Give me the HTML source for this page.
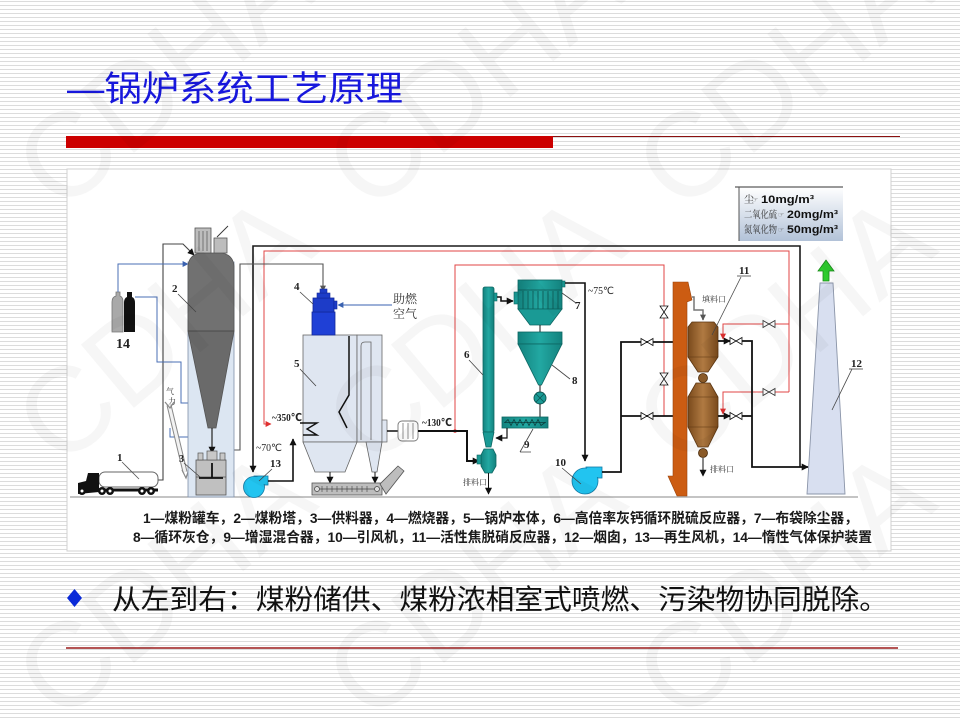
<!DOCTYPE html>
<html><head><meta charset="utf-8">
<style>
html,body{margin:0;padding:0;}
body{width:960px;height:720px;overflow:hidden;position:relative;background:#fff repeating-linear-gradient(to bottom,#fff 0px,#fff 1px,#dcdcdc 1px,#dcdcdc 2px,#fff 2px,#fff 4px);}
svg{position:absolute;left:0;top:0;}
</style></head><body>
<svg width="960" height="720" viewBox="0 0 960 720" xmlns="http://www.w3.org/2000/svg">
<defs>
<marker id="ab" viewBox="0 0 10 10" refX="9" refY="5" markerUnits="userSpaceOnUse" markerWidth="7" markerHeight="7" orient="auto"><path d="M0,0 L10,5 L0,10 z" fill="#111"/></marker>
<marker id="ar" viewBox="0 0 10 10" refX="9" refY="5" markerUnits="userSpaceOnUse" markerWidth="6" markerHeight="6" orient="auto"><path d="M0,0 L10,5 L0,10 z" fill="#e03030"/></marker>
<marker id="abl" viewBox="0 0 10 10" refX="9" refY="5" markerUnits="userSpaceOnUse" markerWidth="6" markerHeight="6" orient="auto"><path d="M0,0 L10,5 L0,10 z" fill="#3a62b0"/></marker>
<marker id="ag" viewBox="0 0 10 10" refX="9" refY="5" markerUnits="userSpaceOnUse" markerWidth="6" markerHeight="6" orient="auto"><path d="M0,0 L10,5 L0,10 z" fill="#555"/></marker>
<linearGradient id="gbox" x1="0" y1="0" x2="0" y2="1"><stop offset="0" stop-color="#ffffff"/><stop offset="1" stop-color="#b2c2d8"/></linearGradient>
<linearGradient id="gbr" x1="0" y1="0" x2="1" y2="0"><stop offset="0" stop-color="#7a4a1c"/><stop offset="0.5" stop-color="#b07a42"/><stop offset="1" stop-color="#7a4a1c"/></linearGradient>
<linearGradient id="gteal" x1="0" y1="0" x2="1" y2="0"><stop offset="0" stop-color="#13827e"/><stop offset="0.5" stop-color="#22a8a2"/><stop offset="1" stop-color="#13827e"/></linearGradient>
</defs>

<!-- Title -->
<text x="67" y="101" font-family="'Liberation Sans','Noto Sans CJK SC',sans-serif" font-size="35" fill="#1717dc" textLength="336" lengthAdjust="spacingAndGlyphs">—锅炉系统工艺原理</text>
<rect x="66" y="136" width="487" height="12" fill="#cc0000"/>
<line x1="553" y1="136.5" x2="900" y2="136.5" stroke="#8b1010" stroke-width="1"/>

<!-- Diagram area -->
<rect x="67" y="169" width="824" height="382" fill="#fff" stroke="#d0d0d0" stroke-width="1"/>

<!-- ground -->
<line x1="70" y1="497" x2="858" y2="497" stroke="#8a8a8a" stroke-width="1"/>

<!-- outer black loop -->
<path d="M800,467 L800,246 L253,246 L253,472" fill="none" stroke="#1a1a1a" stroke-width="1.6" marker-end="url(#ab)"/>
<!-- red loop 1 -->
<path d="M789,392 L789,251 L264,251 L264,424 L271,424" fill="none" stroke="#e04545" stroke-width="1" marker-end="url(#ar)"/>
<path d="M789,324 L723,324 L723,339" fill="none" stroke="#e04545" stroke-width="1" marker-end="url(#ar)"/>
<path d="M789,392 L723,392 L723,414" fill="none" stroke="#e04545" stroke-width="1" marker-end="url(#ar)"/>
<!-- red loop 2 -->
<path d="M455,431 L455,265 L664,265 L664,416" fill="none" stroke="#e04545" stroke-width="1"/>
<circle cx="455" cy="431" r="1.8" fill="#e03030"/>

<!-- gray coal line -->
<path d="M222,455 L222,450 L240,450 L240,264 L323,264 L323,291" fill="none" stroke="#555" stroke-width="1.1" marker-end="url(#ag)"/>

<!-- truck 1 -->
<path d="M157,480 L163,480 L163,244 L183,244 L194,255" fill="none" stroke="#444" stroke-width="1.1" marker-end="url(#ab)"/>
<rect x="99" y="472" width="59" height="15" rx="6" fill="#fff" stroke="#666" stroke-width="1"/>
<line x1="96" y1="490" x2="158" y2="490" stroke="#111" stroke-width="3"/>
<path d="M78,494 L78,483 L86,481 L88,473 L99,473 L99,492 Z" fill="#111"/>
<circle cx="82" cy="491" r="4" fill="#111"/><circle cx="82" cy="491" r="1.5" fill="#fff"/>
<circle cx="102" cy="491" r="4" fill="#111"/><circle cx="102" cy="491" r="1.5" fill="#fff"/>
<circle cx="110" cy="491" r="4" fill="#111"/><circle cx="110" cy="491" r="1.5" fill="#fff"/>
<circle cx="142" cy="491" r="4" fill="#111"/><circle cx="142" cy="491" r="1.5" fill="#fff"/>
<circle cx="151" cy="491" r="4" fill="#111"/><circle cx="151" cy="491" r="1.5" fill="#fff"/>
<text x="117" y="461" font-family="'Liberation Serif',serif" font-weight="bold" font-size="11" fill="#222">1</text>
<line x1="122" y1="462" x2="139" y2="479" stroke="#555" stroke-width="0.8"/>

<!-- cylinders 14 -->
<path d="M112,332 L112,302 Q112,297 116,296 L116,292 L120,292 L120,296 Q123,297 123,302 L123,332 Z" fill="#a9a9a9" stroke="#777" stroke-width="0.8"/>
<path d="M124,332 L124,303 Q124,298 127,297 L127,292 L132,292 L132,297 Q135,298 135,303 L135,332 Z" fill="#111"/>
<text x="116" y="348" font-family="'Liberation Serif',serif" font-weight="bold" font-size="14" fill="#222">14</text>
<!-- blue lines -->
<path d="M118,292 L118,264 L188,264" fill="none" stroke="#4a6fb5" stroke-width="1" marker-end="url(#abl)"/>
<path d="M135,297 L157,297 L157,362 L181,362 L181,403 L197,403" fill="none" stroke="#4a6fb5" stroke-width="1" marker-end="url(#abl)"/>
<path d="M170,428 L170,437 L202,437 L202,452" fill="none" stroke="#4a6fb5" stroke-width="1" marker-end="url(#abl)"/>

<!-- pneumatic pipe -->
<line x1="169" y1="405" x2="185" y2="472" stroke="#888" stroke-width="5"/>
<line x1="169" y1="405" x2="185" y2="472" stroke="#f2f2f2" stroke-width="3"/>
<path d="M165,402 L170,408 L174,402" fill="none" stroke="#888" stroke-width="1.2"/>
<path d="M182,470 L186,478 L189,469" fill="none" stroke="#888" stroke-width="1.2"/>
<text x="166" y="394" font-family="'Liberation Serif','Noto Serif CJK SC',serif" font-size="8" fill="#333">气</text>
<text x="168" y="404" font-family="'Liberation Serif','Noto Serif CJK SC',serif" font-size="8" fill="#333">力</text>

<!-- tower 2 -->
<rect x="188" y="262" width="46" height="235" fill="#dce6f2" stroke="#7f8fa8" stroke-width="0.8"/>
<path d="M188,331 L188,266 Q189,255 200,253 L222,253 Q233,255 234,266 L234,331 Z" fill="#717171" stroke="#555" stroke-width="0.8"/>
<path d="M188,331 L234,331 L216,428 L208,428 Z" fill="#6a6a6a" stroke="#555" stroke-width="0.8"/>
<line x1="188" y1="331" x2="234" y2="331" stroke="#4a4a4a" stroke-width="1"/>
<rect x="195" y="228" width="16" height="25" fill="#bdbdbd" stroke="#555" stroke-width="0.8"/>
<line x1="199" y1="231" x2="199" y2="251" stroke="#555" stroke-width="0.7"/>
<line x1="203" y1="231" x2="203" y2="251" stroke="#555" stroke-width="0.7"/>
<line x1="207" y1="231" x2="207" y2="251" stroke="#555" stroke-width="0.7"/>
<rect x="214" y="238" width="13" height="15" fill="#bdbdbd" stroke="#555" stroke-width="0.8"/>
<line x1="217" y1="237" x2="228" y2="226" stroke="#333" stroke-width="0.9"/>
<line x1="212" y1="428" x2="212" y2="453" stroke="#222" stroke-width="1.2" marker-end="url(#ab)"/>
<text x="172" y="292" font-family="'Liberation Serif',serif" font-weight="bold" font-size="11" fill="#222">2</text>
<line x1="178" y1="294" x2="196" y2="312" stroke="#444" stroke-width="0.8"/>

<!-- feeder 3 -->
<rect x="196" y="460" width="30" height="35" fill="#c0c0c0" stroke="#555" stroke-width="0.8"/>
<line x1="196" y1="477" x2="226" y2="477" stroke="#555" stroke-width="0.7"/>
<rect x="198" y="453" width="5" height="7" fill="#c8c8c8" stroke="#555" stroke-width="0.7"/>
<rect x="207" y="451" width="10" height="9" fill="#c8c8c8" stroke="#555" stroke-width="0.7"/>
<rect x="220" y="453" width="5" height="7" fill="#c8c8c8" stroke="#555" stroke-width="0.7"/>
<line x1="212" y1="463" x2="212" y2="478" stroke="#111" stroke-width="1.8"/>
<line x1="199" y1="478" x2="223" y2="478" stroke="#111" stroke-width="1.8"/>
<text x="179" y="462" font-family="'Liberation Serif',serif" font-weight="bold" font-size="10" fill="#222">3</text>
<line x1="184" y1="463" x2="200" y2="477" stroke="#444" stroke-width="0.8"/>

<!-- fan 13 -->
<rect x="254" y="476" width="14" height="9" fill="#22c4f0" stroke="#137aa5" stroke-width="0.8"/>
<circle cx="254" cy="487" r="10.5" fill="#22c4f0" stroke="#137aa5" stroke-width="0.8"/>
<rect x="255" y="477" width="12" height="7" fill="#22c4f0"/>
<path d="M268,481 L293,481 L293,439" fill="none" stroke="#111" stroke-width="1.6" marker-end="url(#ab)"/>
<text x="270" y="467" font-family="'Liberation Serif',serif" font-weight="bold" font-size="11" fill="#222">13</text>
<line x1="272" y1="469" x2="259" y2="481" stroke="#444" stroke-width="0.8"/>
<text x="256" y="451" font-family="'Liberation Serif','DejaVu Sans',serif" font-size="10" fill="#222" textLength="26" lengthAdjust="spacingAndGlyphs">~70℃</text>
<text x="272" y="421" font-family="'Liberation Serif','DejaVu Sans',serif" font-weight="bold" font-size="11" fill="#222" textLength="30" lengthAdjust="spacingAndGlyphs">~350℃</text>

<!-- boiler 5 -->
<rect x="303" y="335" width="54" height="107" fill="#dfe6f1" stroke="#666" stroke-width="0.8"/>
<rect x="357" y="335" width="25" height="107" fill="#dfe6f1" stroke="#666" stroke-width="0.8"/>
<path d="M361,440 L361,346 Q361,342 365,342 L371,342 L371,440" fill="none" stroke="#666" stroke-width="0.8"/>
<path d="M303,442 L357,442 L345,472 L315,472 Z" fill="#dfe6f1" stroke="#666" stroke-width="0.8"/>
<path d="M366,442 L382,442 L377,472 L372,472 Z" fill="#dfe6f1" stroke="#666" stroke-width="0.8"/>
<path d="M349,336 L349,395 L339,412 L347,428" fill="none" stroke="#111" stroke-width="1.5"/>
<path d="M300,423 L317,423 L307,429 L317,435 L303,435" fill="none" stroke="#111" stroke-width="1.4"/>
<rect x="382" y="420" width="5" height="22" fill="#dfe6f1" stroke="#666" stroke-width="0.7"/>
<line x1="330" y1="472" x2="330" y2="483" stroke="#111" stroke-width="1" marker-end="url(#ab)"/>
<line x1="375" y1="472" x2="375" y2="483" stroke="#111" stroke-width="1" marker-end="url(#ab)"/>
<rect x="312" y="483" width="70" height="12" fill="#bdbdbd" stroke="#555" stroke-width="0.8"/>
<line x1="317" y1="489" x2="377" y2="489" stroke="#444" stroke-width="0.8"/>
<path d="M322,486 v6 M327,486 v6 M332,486 v6 M337,486 v6 M342,486 v6 M347,486 v6 M352,486 v6 M357,486 v6 M362,486 v6 M367,486 v6" stroke="#444" stroke-width="0.6"/>
<circle cx="317" cy="489" r="2.5" fill="#ddd" stroke="#444" stroke-width="0.7"/>
<circle cx="377" cy="489" r="2.5" fill="#ddd" stroke="#444" stroke-width="0.7"/>
<path d="M380,484 L398,466 L404,471 L386,494 Z" fill="#bdbdbd" stroke="#555" stroke-width="0.8"/>
<text x="294" y="367" font-family="'Liberation Serif',serif" font-weight="bold" font-size="11" fill="#222">5</text>
<line x1="300" y1="369" x2="316" y2="386" stroke="#444" stroke-width="0.8"/>

<!-- burner 4 -->
<rect x="312" y="312" width="23" height="23" fill="#1f40d6" stroke="#13299a" stroke-width="0.8"/>
<rect x="313" y="298" width="21" height="14" fill="#1d3cc8" stroke="#13299a" stroke-width="0.8"/>
<rect x="334" y="301" width="3" height="8" fill="#1d3cc8" stroke="#13299a" stroke-width="0.6"/>
<rect x="317" y="293" width="13" height="5" fill="#1d3cc8" stroke="#13299a" stroke-width="0.6"/>
<rect x="320" y="289" width="7" height="4" fill="#1d3cc8" stroke="#13299a" stroke-width="0.6"/>
<text x="294" y="290" font-family="'Liberation Serif',serif" font-weight="bold" font-size="11" fill="#222">4</text>
<line x1="300" y1="292" x2="313" y2="304" stroke="#444" stroke-width="0.8"/>
<line x1="392" y1="305" x2="338" y2="305" stroke="#3a62b0" stroke-width="1" marker-end="url(#abl)"/>
<text x="393" y="303" font-family="'Liberation Serif','Noto Serif CJK SC',serif" font-size="12" fill="#333">助燃</text>
<text x="393" y="318" font-family="'Liberation Serif','Noto Serif CJK SC',serif" font-size="12" fill="#333">空气</text>

<!-- flue / heater -->
<line x1="387" y1="431" x2="398" y2="431" stroke="#111" stroke-width="1.5"/>
<rect x="398" y="421" width="20" height="20" rx="4" fill="#fff" stroke="#777" stroke-width="0.9"/>
<path d="M403,423 v16 M408,423 v16 M413,423 v16" stroke="#777" stroke-width="0.8"/>
<path d="M418,431 L467,431 L467,461 L479,461" fill="none" stroke="#111" stroke-width="2" marker-end="url(#ab)"/>
<text x="422" y="426" font-family="'Liberation Serif','DejaVu Sans',serif" font-weight="bold" font-size="11" fill="#222" textLength="30" lengthAdjust="spacingAndGlyphs">~130℃</text>

<!-- reactor 6 -->
<rect x="483" y="287" width="11" height="145" rx="2" fill="url(#gteal)" stroke="#0d6662" stroke-width="0.8"/>
<path d="M483,432 L494,432 L491,447 L486,447 Z" fill="#1a9a95" stroke="#0d6662" stroke-width="0.8"/>
<path d="M484,449 L493,449 L496,455 L496,466 L492,473 L485,473 L481,466 L481,455 Z" fill="url(#gteal)" stroke="#0d6662" stroke-width="0.8"/>
<rect x="477" y="455" width="4" height="9" fill="#1a9a95" stroke="#0d6662" stroke-width="0.6"/>
<line x1="488.5" y1="473" x2="488.5" y2="494" stroke="#111" stroke-width="1" marker-end="url(#ab)"/>
<text x="463" y="485" font-family="'Liberation Serif','Noto Serif CJK SC',serif" font-size="8" fill="#333">排料口</text>
<text x="464" y="358" font-family="'Liberation Serif',serif" font-weight="bold" font-size="11" fill="#222">6</text>
<line x1="469" y1="360" x2="483" y2="375" stroke="#444" stroke-width="0.8"/>
<rect x="494" y="293" width="3" height="8" fill="#1a9a95" stroke="#0d6662" stroke-width="0.6"/>
<path d="M497,297 L501,297 L501,301 L513,301" fill="none" stroke="#111" stroke-width="1.6" marker-end="url(#ab)"/>

<!-- baghouse 7 -->
<rect x="518" y="280" width="44" height="29" fill="url(#gteal)" stroke="#0d6662" stroke-width="0.8"/>
<line x1="518" y1="290" x2="562" y2="290" stroke="#0d5552" stroke-width="0.8"/>
<path d="M523,291 v18 M528,291 v18 M533,291 v18 M538,291 v18 M543,291 v18 M548,291 v18 M553,291 v18 M558,291 v18" stroke="#0d5552" stroke-width="0.8"/>
<rect x="514" y="292" width="4" height="12" fill="#1a9a95" stroke="#0d6662" stroke-width="0.6"/>
<rect x="562" y="281" width="3" height="6" fill="#1a9a95" stroke="#0d6662" stroke-width="0.6"/>
<path d="M518,309 L562,309 L550,325 L530,325 Z" fill="#1a9a95" stroke="#0d6662" stroke-width="0.8"/>
<line x1="540" y1="325" x2="540" y2="332" stroke="#111" stroke-width="1"/>
<!-- hopper 8 -->
<rect x="518" y="332" width="44" height="12" fill="url(#gteal)" stroke="#0d6662" stroke-width="0.8"/>
<path d="M518,344 L562,344 L541.5,385 L538.5,385 Z" fill="url(#gteal)" stroke="#0d6662" stroke-width="0.8"/>
<line x1="540" y1="385" x2="540" y2="392" stroke="#111" stroke-width="1"/>
<circle cx="540" cy="398" r="6" fill="#1a9a95" stroke="#0d5552" stroke-width="0.9"/>
<path d="M536,394 L544,402 M544,394 L536,402" stroke="#0d5552" stroke-width="0.8"/>
<line x1="540" y1="404" x2="540" y2="417" stroke="#111" stroke-width="1"/>
<text x="575" y="309" font-family="'Liberation Serif',serif" font-weight="bold" font-size="11" fill="#222">7</text>
<line x1="576" y1="303" x2="562" y2="293" stroke="#444" stroke-width="0.8"/>
<text x="572" y="384" font-family="'Liberation Serif',serif" font-weight="bold" font-size="11" fill="#222">8</text>
<line x1="570" y1="379" x2="552" y2="365" stroke="#444" stroke-width="0.8"/>
<!-- mixer 9 -->
<rect x="502" y="417" width="46" height="11" fill="url(#gteal)" stroke="#0d6662" stroke-width="0.8"/>
<path d="M505,422.5 L508,419.5 L511,425.5 L514,419.5 L517,425.5 L520,419.5 L523,425.5 L526,419.5 L529,425.5 L532,419.5 L535,425.5 L538,419.5 L541,425.5 L545,422.5" fill="none" stroke="#0b3d3b" stroke-width="0.8"/>
<line x1="504" y1="422.5" x2="546" y2="422.5" stroke="#0b3d3b" stroke-width="0.8"/>
<path d="M507,428 L507,438 L496,438" fill="none" stroke="#111" stroke-width="1.2" marker-end="url(#ab)"/>
<text x="524" y="448" font-family="'Liberation Serif',serif" font-weight="bold" font-size="11" fill="#222">9</text>
<path d="M520,452 L531,452 M520,452 L533,429" fill="none" stroke="#444" stroke-width="0.8"/>

<!-- line to fan 10 -->
<path d="M565,283 L585,283 L585,461" fill="none" stroke="#111" stroke-width="1.6" marker-end="url(#ab)"/>
<text x="588" y="294" font-family="'Liberation Serif','DejaVu Sans',serif" font-size="10" fill="#222" textLength="26" lengthAdjust="spacingAndGlyphs">~75℃</text>
<!-- fan 10 -->
<rect x="586" y="467" width="16" height="11" fill="#22c4f0" stroke="#137aa5" stroke-width="0.8"/>
<circle cx="585" cy="481" r="13" fill="#22c4f0" stroke="#137aa5" stroke-width="0.8"/>
<rect x="587" y="468" width="14" height="9" fill="#22c4f0"/>
<text x="555" y="466" font-family="'Liberation Serif',serif" font-weight="bold" font-size="11" fill="#222">10</text>
<line x1="562" y1="468" x2="581" y2="484" stroke="#444" stroke-width="0.8"/>
<path d="M602,472 L621,472 L621,342 L686,342" fill="none" stroke="#111" stroke-width="1.8" marker-end="url(#ab)"/>
<path d="M621,416 L686,416" fill="none" stroke="#111" stroke-width="1.8" marker-end="url(#ab)"/>
<path d="M641,338.5 L653,345.5 L653,338.5 L641,345.5 Z" fill="#fff" stroke="#111" stroke-width="0.8"/>
<path d="M641,412.5 L653,419.5 L653,412.5 L641,419.5 Z" fill="#fff" stroke="#111" stroke-width="0.8"/>
<!-- red vertical valves -->
<path d="M660,306 L668,306 L660,318 L668,318 Z" fill="#fff" stroke="#111" stroke-width="0.8"/>
<path d="M660,373 L668,373 L660,385 L668,385 Z" fill="#fff" stroke="#111" stroke-width="0.8"/>

<!-- chute -->
<path d="M673,282 L688,282 L692,300 L687,302 L687,496 L677,496 L668,476 L673,476 Z" fill="#cc5c12" stroke="#9a420a" stroke-width="0.6"/>
<path d="M692,297 L694,297 L694,310 L703,310 L703,320" fill="none" stroke="#777" stroke-width="1.5" marker-end="url(#ag)"/>
<text x="702" y="302" font-family="'Liberation Serif','Noto Serif CJK SC',serif" font-size="8" fill="#333">填料口</text>

<!-- reactor 11 -->
<path d="M688,327 L692,322 L714,322 L718,327 L718,357 L708,372 L698,372 L688,357 Z" fill="url(#gbr)" stroke="#5a3410" stroke-width="0.8"/>
<line x1="688" y1="357" x2="718" y2="357" stroke="#5a3410" stroke-width="0.6"/>
<circle cx="703" cy="378" r="4.5" fill="#8a5a28" stroke="#4a2a0a" stroke-width="0.8"/>
<path d="M688,397 L696,383 L710,383 L718,397 L718,427 L708,447 L698,447 L688,427 Z" fill="url(#gbr)" stroke="#5a3410" stroke-width="0.8"/>
<line x1="688" y1="397" x2="718" y2="397" stroke="#5a3410" stroke-width="0.6"/>
<line x1="688" y1="427" x2="718" y2="427" stroke="#5a3410" stroke-width="0.6"/>
<circle cx="703" cy="453" r="4.5" fill="#8a5a28" stroke="#4a2a0a" stroke-width="0.8"/>
<line x1="703" y1="458" x2="703" y2="476" stroke="#111" stroke-width="1" marker-end="url(#ab)"/>
<text x="710" y="472" font-family="'Liberation Serif','Noto Serif CJK SC',serif" font-size="8" fill="#333">排料口</text>
<text x="739" y="274" font-family="'Liberation Serif',serif" font-weight="bold" font-size="11" fill="#222">11</text>
<line x1="737" y1="276" x2="751" y2="276" stroke="#444" stroke-width="0.8"/>
<line x1="741" y1="277" x2="712" y2="335" stroke="#444" stroke-width="0.8"/>
<!-- outlets -->
<path d="M718,341 L730,341" fill="none" stroke="#111" stroke-width="1.8" marker-end="url(#ab)"/>
<path d="M742,341 L752,341 L752,467 L808,467" fill="none" stroke="#111" stroke-width="1.8" marker-end="url(#ab)"/>
<path d="M718,416 L730,416" fill="none" stroke="#111" stroke-width="1.8" marker-end="url(#ab)"/>
<path d="M742,416 L752,416" fill="none" stroke="#111" stroke-width="1.8"/>
<path d="M730,337.5 L742,344.5 L742,337.5 L730,344.5 Z" fill="#fff" stroke="#111" stroke-width="0.8"/>
<path d="M730,412.5 L742,419.5 L742,412.5 L730,419.5 Z" fill="#fff" stroke="#111" stroke-width="0.8"/>
<path d="M763,320.5 L775,327.5 L775,320.5 L763,327.5 Z" fill="#fff" stroke="#333" stroke-width="0.8"/>
<path d="M763,388.5 L775,395.5 L775,388.5 L763,395.5 Z" fill="#fff" stroke="#333" stroke-width="0.8"/>

<!-- stack 12 -->
<path d="M820,283 L833,283 L845,494 L807,494 Z" fill="#d8dff0" stroke="#8a94a8" stroke-width="0.9"/>
<path d="M823,281 L823,271 L818,271 L826,260 L834,271 L829,271 L829,281 Z" fill="#2ecc2e" stroke="#1a8a1a" stroke-width="0.8"/>
<text x="851" y="367" font-family="'Liberation Serif',serif" font-weight="bold" font-size="11" fill="#222">12</text>
<line x1="849" y1="369" x2="863" y2="369" stroke="#444" stroke-width="0.8"/>
<line x1="852" y1="369" x2="832" y2="410" stroke="#444" stroke-width="0.8"/>

<!-- emission box -->
<rect x="739" y="187" width="104" height="54" fill="url(#gbox)"/>
<line x1="735" y1="187" x2="843" y2="187" stroke="#333" stroke-width="1"/>
<line x1="739" y1="187" x2="739" y2="241" stroke="#555" stroke-width="1"/>
<text x="744" y="203" font-family="'Liberation Serif','Noto Serif CJK SC',serif" font-size="10" fill="#333">尘</text>
<text x="752" y="202" font-family="'DejaVu Sans',sans-serif" font-size="7" fill="#555">☞</text>
<text x="761" y="203" font-family="'Liberation Sans',sans-serif" font-weight="bold" font-size="11" fill="#111" textLength="53" lengthAdjust="spacingAndGlyphs">10mg/m³</text>
<text x="744" y="218" font-family="'Liberation Serif','Noto Serif CJK SC',serif" font-size="10" fill="#333" textLength="33" lengthAdjust="spacingAndGlyphs">二氧化硫</text>
<text x="778" y="217" font-family="'DejaVu Sans',sans-serif" font-size="7" fill="#555">☞</text>
<text x="787" y="218" font-family="'Liberation Sans',sans-serif" font-weight="bold" font-size="11" fill="#111" textLength="51" lengthAdjust="spacingAndGlyphs">20mg/m³</text>
<text x="744" y="233" font-family="'Liberation Serif','Noto Serif CJK SC',serif" font-size="10" fill="#333" textLength="33" lengthAdjust="spacingAndGlyphs">氮氧化物</text>
<text x="778" y="232" font-family="'DejaVu Sans',sans-serif" font-size="7" fill="#555">☞</text>
<text x="787" y="233" font-family="'Liberation Sans',sans-serif" font-weight="bold" font-size="11" fill="#111" textLength="51" lengthAdjust="spacingAndGlyphs">50mg/m³</text>

<!-- legend -->
<text x="143" y="523" font-family="'Liberation Sans','Noto Sans CJK SC',sans-serif" font-weight="bold" font-size="14" fill="#1a1a1a" textLength="715" lengthAdjust="spacingAndGlyphs">1—煤粉罐车，2—煤粉塔，3—供料器，4—燃烧器，5—锅炉本体，6—高倍率灰钙循环脱硫反应器，7—布袋除尘器，</text>
<text x="133" y="542" font-family="'Liberation Sans','Noto Sans CJK SC',sans-serif" font-weight="bold" font-size="14" fill="#1a1a1a" textLength="739" lengthAdjust="spacingAndGlyphs">8—循环灰仓，9—增湿混合器，10—引风机，11—活性焦脱硝反应器，12—烟囱，13—再生风机，14—惰性气体保护装置</text>

<!-- bullet -->
<path d="M67,598 L74.5,589 L82,598 L74.5,607 Z" fill="#0a2ad8"/>
<text x="112" y="609" font-family="'Liberation Sans','Noto Sans CJK SC',sans-serif" font-size="28" fill="#111" textLength="776" lengthAdjust="spacingAndGlyphs">从左到右：煤粉储供、煤粉浓相室式喷燃、污染物协同脱除。</text>
<line x1="66" y1="648" x2="898" y2="648" stroke="#9b1c1c" stroke-width="1.5"/>

<!-- watermarks -->
<g font-family="'Liberation Sans',sans-serif" font-size="120" fill="#000" fill-opacity="0.035">
<text transform="translate(60,215) rotate(-40)">CDHA</text>
<text transform="translate(370,215) rotate(-40)">CDHA</text>
<text transform="translate(680,215) rotate(-40)">CDHA</text>
<text transform="translate(60,470) rotate(-40)">CDHA</text>
<text transform="translate(370,470) rotate(-40)">CDHA</text>
<text transform="translate(680,470) rotate(-40)">CDHA</text>
<text transform="translate(60,725) rotate(-40)">CDHA</text>
<text transform="translate(370,725) rotate(-40)">CDHA</text>
<text transform="translate(680,725) rotate(-40)">CDHA</text>
</g>
</svg>
</body></html>
